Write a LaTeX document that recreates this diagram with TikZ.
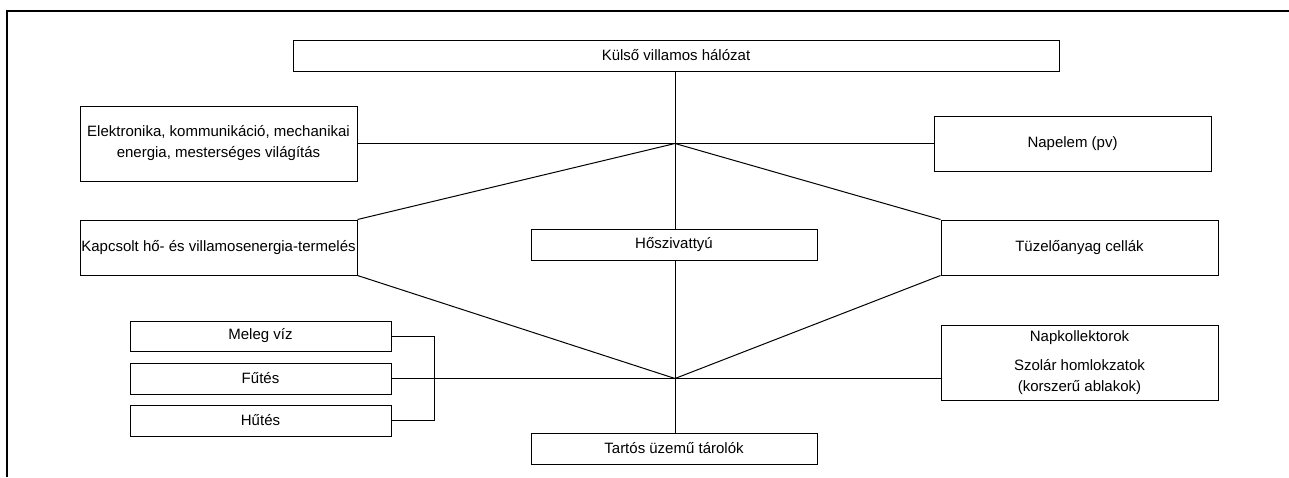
\documentclass[tikz,border=0pt]{standalone}
\usepackage{fontspec}
\setmainfont{Liberation Sans}
\begin{document}
\begin{tikzpicture}[x=1pt,y=-1pt,
  box/.style={draw=black, line width=1pt, rectangle, inner sep=0pt, align=center,
    font=\fontsize{15}{21}\selectfont},
  conn/.style={draw=black, line width=1pt}]
\useasboundingbox (0,0) rectangle (1289,477);
% frame
\draw[line width=1.2pt] (7,477) -- (7,11) -- (1289,11);
% nodes
\node[box, minimum width=766pt, minimum height=31pt] (kulso) at (676,55.5) {Külső villamos hálózat};
\node[box, minimum width=277pt, minimum height=75pt] (elek) at (218.5,143.5) {Elektronika, kommunikáció, mechanikai\\energia, mesterséges világítás};
\node[box, minimum width=277pt, minimum height=55pt] (nap) at (1072.5,143.5) {Napelem (pv)};
\node[box, minimum width=277pt, minimum height=55pt] (kap) at (218.5,247.5) {Kapcsolt hő- és villamosenergia-termelés};
\node[box, minimum width=277pt, minimum height=55pt] (tuz) at (1079.5,247.5) {Tüzelőanyag cellák};
\node[box, minimum width=286pt, minimum height=31pt] (hosz) at (674,244.5) {Hőszivattyú};
\node[box, minimum width=261pt, minimum height=30pt] (meleg) at (260.5,336) {Meleg víz};
\node[box, minimum width=261pt, minimum height=31pt] (fut) at (260.5,378.5) {Fűtés};
\node[box, minimum width=261pt, minimum height=31pt] (hut) at (260.5,420.5) {Hűtés};
\node[box, minimum width=277pt, minimum height=75pt] (napk) at (1079.5,362.5) {Napkollektorok\\[8pt]Szolár homlokzatok\\(korszerű ablakok)};
\node[box, minimum width=286pt, minimum height=31pt] (tart) at (674,448.5) {Tartós üzemű tárolók};
% hubs
\coordinate (hubU) at (675,143.5);
\coordinate (hubL) at (675,378.5);
% connectors
\draw[conn] (hubU |- kulso.south) -- (hubU) -- (hubU |- hosz.north);
\draw[conn] (elek.east) -- (hubU) -- (nap.west);
\draw[conn] (kap.north east) -- (hubU) -- (tuz.north west);
\draw[conn] (kap.south east) -- (hubL) -- (tuz.south west);
\draw[conn] (hubL |- hosz.south) -- (hubL) -- (hubL |- tart.north);
\draw[conn] (fut.east) -- (hubL) -- (hubL -| napk.west);
\draw[conn] (meleg.east) -- ++(43,0) |- (hut.east);
\end{tikzpicture}
\end{document}
